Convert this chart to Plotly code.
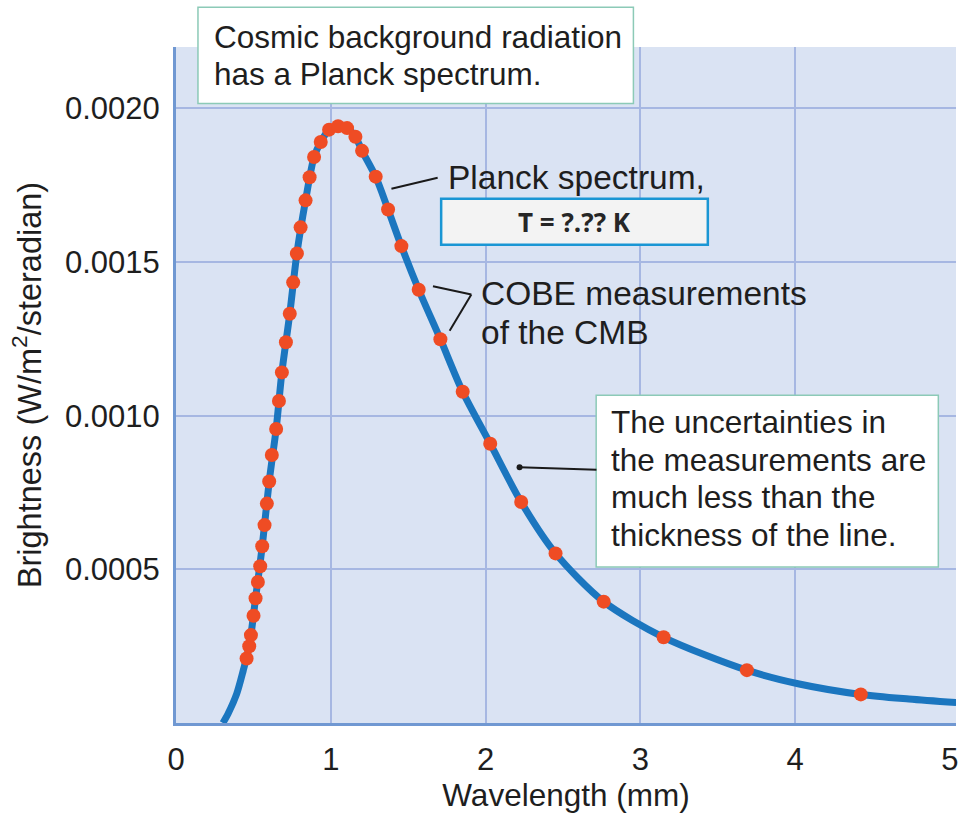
import plotly.graph_objects as go

# Planck curve traced through the CMB spectrum (wavelength in mm, brightness in W/m^2/sr)
curve_wavelength = [0.303, 0.337, 0.392, 0.434, 0.473, 0.514, 0.557, 0.602, 0.647, 0.684,
                    0.735, 0.781, 0.837, 0.892, 0.935, 0.989, 1.047, 1.105, 1.159, 1.202,
                    1.290, 1.370, 1.456, 1.568, 1.708, 1.852, 2.030, 2.230, 2.452, 2.763,
                    3.150, 3.688, 4.026, 4.424, 4.735, 5.040]
curve_brightness = [0.0, 0.000031, 0.000095, 0.000170, 0.000250, 0.000406, 0.000575, 0.000786,
                    0.000957, 0.001141, 0.001332, 0.001528, 0.001701, 0.001842, 0.001891,
                    0.001931, 0.001942, 0.001936, 0.001908, 0.001862, 0.001778, 0.001671,
                    0.001552, 0.001410, 0.001249, 0.001078, 0.000909, 0.000719, 0.000552,
                    0.000395, 0.000279, 0.000172, 0.000127, 0.000093, 0.000078, 0.0000665]

# COBE measurement points
cobe_wavelength = [0.456, 0.473, 0.484, 0.501, 0.514, 0.529, 0.544, 0.557, 0.572, 0.587,
                   0.602, 0.619, 0.647, 0.665, 0.684, 0.710, 0.735, 0.757, 0.781, 0.805,
                   0.837, 0.863, 0.892, 0.935, 0.989, 1.047, 1.105, 1.159, 1.202, 1.290,
                   1.370, 1.456, 1.568, 1.708, 1.852, 2.030, 2.230, 2.452, 2.763, 3.150,
                   3.688, 4.424]
cobe_brightness = [0.000210, 0.000250, 0.000286, 0.000349, 0.000406, 0.000459, 0.000510,
                   0.000575, 0.000644, 0.000714, 0.000786, 0.000872, 0.000957, 0.001048,
                   0.001141, 0.001239, 0.001332, 0.001434, 0.001528, 0.001613, 0.001701,
                   0.001776, 0.001842, 0.001891, 0.001931, 0.001942, 0.001936, 0.001908,
                   0.001862, 0.001778, 0.001671, 0.001552, 0.001410, 0.001249, 0.001078,
                   0.000909, 0.000719, 0.000552, 0.000395, 0.000279, 0.000172, 0.0000931]

x_tick_values = [0, 1, 2, 3, 4, 5]
x_tick_labels = ["0", "1", "2", "3", "4", "5"]
x_grid_values = [1, 2, 3, 4]
y_tick_values = [0.0005, 0.0010, 0.0015, 0.0020]
y_tick_labels = ["0.0005", "0.0010", "0.0015", "0.0020"]

W, H = 971, 819
PL, PR, PT, PB = 176, 957, 47, 729
FONT = "Liberation Sans, Arial, Helvetica, sans-serif"
TEXT = "#1e1e1e"


def fx(xp):
    return (xp - PL) / (PR - PL)


def fy(yp):
    return (PB - yp) / (PB - PT)


fig = go.Figure()
fig.add_trace(go.Scatter(
    x=curve_wavelength, y=curve_brightness, mode="lines",
    line=dict(color="#1b76bf", width=7, shape="spline", smoothing=0.8),
    hoverinfo="skip", showlegend=False))
fig.add_trace(go.Scatter(
    x=cobe_wavelength, y=cobe_brightness, mode="markers",
    marker=dict(color="#ef4c24", size=14, line=dict(width=0)),
    showlegend=False))

shapes = []
annotations = []


def box(x0, y0, x1, y1, line_color, fill, width):
    shapes.append(dict(type="rect", xref="paper", yref="paper",
                       x0=fx(x0), x1=fx(x1), y0=fy(y1), y1=fy(y0),
                       line=dict(color=line_color, width=width),
                       fillcolor=fill, layer="above"))


def seg(x0, y0, x1, y1):
    shapes.append(dict(type="line", xref="paper", yref="paper",
                       x0=fx(x0), y0=fy(y0), x1=fx(x1), y1=fy(y1),
                       line=dict(color="#1a1a1a", width=2), layer="above"))


def label(text, xp, yp, size=31.5, anchor="left", family=FONT, color=TEXT):
    annotations.append(dict(text=text, xref="paper", yref="paper",
                            x=fx(xp), y=fy(yp), xanchor=anchor, yanchor="middle",
                            showarrow=False, borderpad=0,
                            font=dict(family=family, size=size, color=color)))


# Title box
box(198, 7, 634, 104, "#8ccab7", "white", 1.5)
label("Cosmic background radiation", 213, 36.5)
label("has a Planck spectrum.", 213, 74)

# Planck spectrum callout
seg(391.7, 190, 438, 179)
label("Planck spectrum,", 447, 178.5, size=33.5)
box(441.5, 200, 708.5, 246.5, "#1a96d4", "#f3f3f3", 2.5)
label("<b>T = ?.?? K</b>", 575, 223.5, size=26, anchor="center",
      family="Open Sans, sans-serif", color="#262626")

# COBE callout
seg(433.3, 288.3, 471.7, 296.7)
seg(471.7, 296.7, 450, 333.3)
label("COBE measurements", 480.5, 295.5, size=33.5)
label("of the CMB", 480.5, 335, size=33.5)

# Uncertainty note
box(596.7, 398.3, 939.3, 571.7, "#8ccab7", "white", 1.5)
seg(520, 471, 597, 473.5)
shapes.append(dict(type="circle", xref="paper", yref="paper",
                   x0=fx(517), x1=fx(523), y0=fy(474), y1=fy(468),
                   fillcolor="#1a1a1a", line=dict(width=0), layer="above"))
for text, yc in [("The uncertainties in", 425.8), ("the measurements are", 463.5),
                 ("much less than the", 501.2), ("thickness of the line.", 538.9)]:
    label(text, 610.7, yc)

fig.update_layout(
    width=W, height=H, autosize=False,
    margin=dict(l=PL, r=W - PR, t=PT, b=H - PB, pad=0),
    paper_bgcolor="white", plot_bgcolor="#dae3f3",
    font=dict(family=FONT, size=31, color=TEXT),
    shapes=shapes, annotations=annotations,
    xaxis=dict(
        range=[0, 5.039], tickmode="array", tickvals=x_tick_values, ticktext=x_tick_labels,
        showgrid=False, zeroline=False, showline=True, linecolor="#7098d2", linewidth=3,
        ticks="outside", ticklen=7, tickcolor="rgba(0,0,0,0)",
        tickfont=dict(size=31, color=TEXT),
        minor=dict(tickmode="array", tickvals=x_grid_values, showgrid=True,
                   gridcolor="#a6b7e2", gridwidth=2, ticks=""),
        title=dict(text="Wavelength (mm)", font=dict(size=31.5, color=TEXT), standoff=8),
    ),
    yaxis=dict(
        range=[0, 0.0022], tickmode="array", tickvals=y_tick_values, ticktext=y_tick_labels,
        showgrid=True, gridcolor="#a6b7e2", gridwidth=2, zeroline=False,
        showline=True, linecolor="#7098d2", linewidth=3,
        ticks="outside", ticklen=7, tickcolor="rgba(0,0,0,0)",
        tickfont=dict(size=31, color=TEXT),
        title=dict(text="Brightness (W/m<sup>2</sup>/steradian)",
                   font=dict(size=32.5, color=TEXT), standoff=14),
    ),
)

fig.write_html("out.html")
